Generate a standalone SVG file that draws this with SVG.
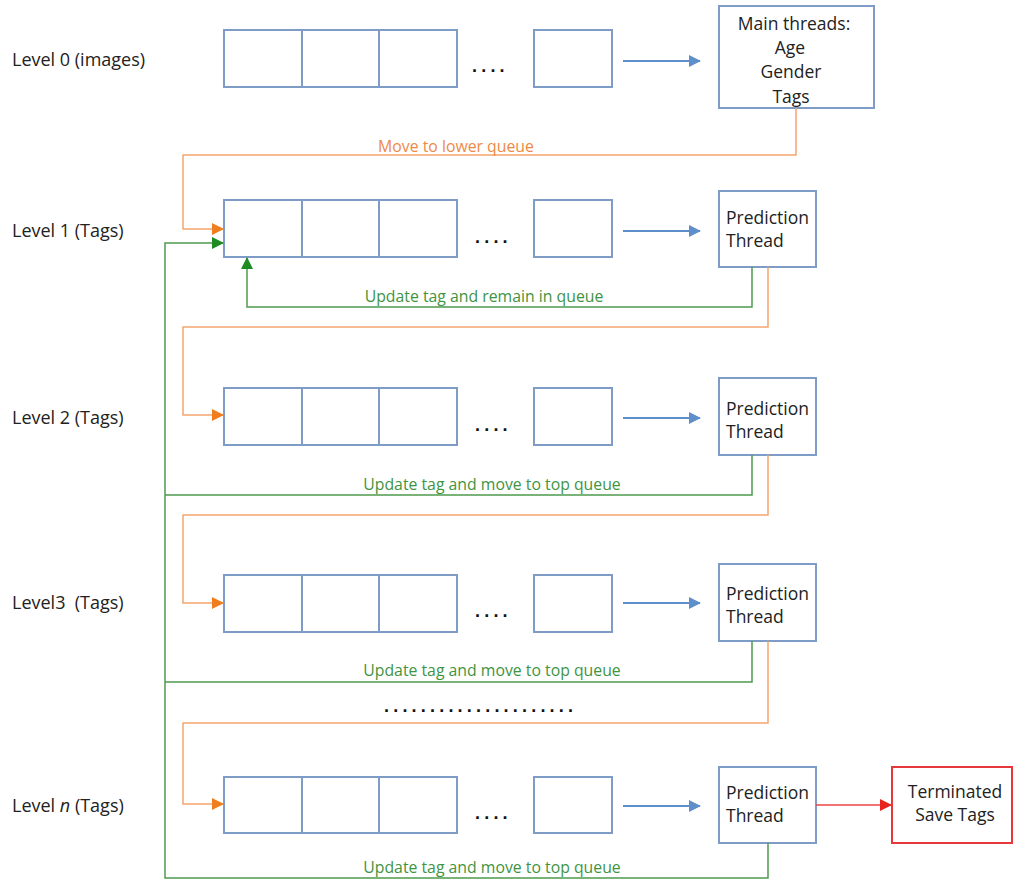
<svg xmlns="http://www.w3.org/2000/svg" width="1021" height="881" viewBox="0 0 1021 881">
<defs>
<style>
.cell{fill:#fff;stroke:#7F9CC6;stroke-width:2}
.box{fill:#fff;stroke:#7F9CC6;stroke-width:2}
.tbox{fill:#fff;stroke:#E8373A;stroke-width:2}
.t{font-family:"Open Sans","Liberation Sans",sans-serif;font-size:17.5px;fill:#222}
.lv{font-family:"Open Sans","Liberation Sans",sans-serif;font-size:18px;fill:#222}
.dots{font-family:"Liberation Sans",sans-serif;font-size:18px;font-weight:bold;fill:#111;letter-spacing:4.2px}
.lo{font-family:"Open Sans","Liberation Sans",sans-serif;font-size:15.8px;fill:#EE8A45}
.lg{font-family:"Open Sans","Liberation Sans",sans-serif;font-size:15.8px;fill:#3F943F}
.blue{fill:none;stroke:#5E8FCB;stroke-width:2}
.orange{fill:none;stroke:#F3A56C;stroke-width:1.5}
.green{fill:none;stroke:#4F9A4F;stroke-width:1.5}
.red{fill:none;stroke:#EE4446;stroke-width:1.5}
</style>
<marker id="ab" markerWidth="12" markerHeight="12" refX="11" refY="6" orient="auto" markerUnits="userSpaceOnUse"><path d="M0,0 L12,6 L0,12 Z" fill="#5E8FCB"/></marker>
<marker id="ao" markerWidth="12" markerHeight="12" refX="11" refY="6" orient="auto" markerUnits="userSpaceOnUse"><path d="M0,0 L12,6 L0,12 Z" fill="#F07E1E"/></marker>
<marker id="ag" markerWidth="12" markerHeight="12" refX="11" refY="6" orient="auto" markerUnits="userSpaceOnUse"><path d="M0,0 L12,6 L0,12 Z" fill="#1E8C22"/></marker>
<marker id="ar" markerWidth="12" markerHeight="12" refX="11" refY="6" orient="auto" markerUnits="userSpaceOnUse"><path d="M0,0 L12,6 L0,12 Z" fill="#E8201E"/></marker>
</defs>
<rect width="1021" height="881" fill="#fff"/>

<g id="labels">
<text class="lv" x="12" y="66">Level 0 (images)</text>
<text class="lv" x="12" y="237">Level 1 (Tags)</text>
<text class="lv" x="12" y="424">Level 2 (Tags)</text>
<text class="lv" x="12" y="609" xml:space="preserve">Level3  (Tags)</text>
<text class="lv" x="12" y="812">Level <tspan font-style="italic">n</tspan> (Tags)</text>
</g>

<g id="queue0">
<rect class="cell" x="224" y="30" width="78" height="57"/>
<rect class="cell" x="302" y="30" width="77" height="57"/>
<rect class="cell" x="379" y="30" width="78" height="57"/>
<text class="dots" x="472" y="72">....</text>
<rect class="cell" x="534" y="30" width="78" height="57"/>
</g>
<g id="main-threads">
<rect class="box" x="719" y="6" width="155" height="102"/>
<text class="t" text-anchor="middle" x="794" y="30">Main threads:</text>
<text class="t" text-anchor="middle" x="790" y="54">Age</text>
<text class="t" text-anchor="middle" x="791" y="78">Gender</text>
<text class="t" text-anchor="middle" x="791" y="103">Tags</text>
</g>

<g id="queue1">
<rect class="cell" x="224" y="200" width="78" height="57"/>
<rect class="cell" x="302" y="200" width="77" height="57"/>
<rect class="cell" x="379" y="200" width="78" height="57"/>
<text class="dots" x="475" y="243">....</text>
<rect class="cell" x="534" y="200" width="78" height="57"/>
</g>
<g id="pred1">
<rect class="box" x="719" y="191" width="97" height="76"/>
<text class="t" x="726" y="224">Prediction</text>
<text class="t" x="726" y="247">Thread</text>
</g>

<g id="queue2">
<rect class="cell" x="224" y="388" width="78" height="57"/>
<rect class="cell" x="302" y="388" width="77" height="57"/>
<rect class="cell" x="379" y="388" width="78" height="57"/>
<text class="dots" x="475" y="431">....</text>
<rect class="cell" x="534" y="388" width="78" height="57"/>
</g>
<g id="pred2">
<rect class="box" x="719" y="378" width="97" height="77"/>
<text class="t" x="726" y="415">Prediction</text>
<text class="t" x="726" y="438">Thread</text>
</g>

<g id="queue3">
<rect class="cell" x="224" y="575" width="78" height="57"/>
<rect class="cell" x="302" y="575" width="77" height="57"/>
<rect class="cell" x="379" y="575" width="78" height="57"/>
<text class="dots" x="475" y="617">....</text>
<rect class="cell" x="534" y="575" width="78" height="57"/>
</g>
<g id="pred3">
<rect class="box" x="719" y="564" width="97" height="77"/>
<text class="t" x="726" y="600">Prediction</text>
<text class="t" x="726" y="623">Thread</text>
</g>

<g id="ellipsis">
<text class="dots" x="384" y="712">.....................</text>
</g>

<g id="queuen">
<rect class="cell" x="224" y="777" width="78" height="56"/>
<rect class="cell" x="302" y="777" width="77" height="56"/>
<rect class="cell" x="379" y="777" width="78" height="56"/>
<text class="dots" x="475" y="819">....</text>
<rect class="cell" x="534" y="777" width="78" height="56"/>
</g>
<g id="predn">
<rect class="box" x="719" y="767" width="97" height="76"/>
<text class="t" x="726" y="799">Prediction</text>
<text class="t" x="726" y="822">Thread</text>
</g>
<g id="terminated">
<rect class="tbox" x="892" y="767" width="120" height="76"/>
<text class="t" text-anchor="middle" x="955" y="798">Terminated</text>
<text class="t" text-anchor="middle" x="955" y="821">Save Tags</text>
</g>

<g id="connectors">
<path class="blue" d="M623 61 H700" marker-end="url(#ab)"/>
<path class="blue" d="M623 231 H700" marker-end="url(#ab)"/>
<path class="blue" d="M623 418 H700" marker-end="url(#ab)"/>
<path class="blue" d="M623 603 H700" marker-end="url(#ab)"/>
<path class="blue" d="M623 806 H700" marker-end="url(#ab)"/>

<path class="orange" d="M796 108 V155 H183 V229 H223" marker-end="url(#ao)"/>
<path class="orange" d="M768 267 V327 H183 V415 H223" marker-end="url(#ao)"/>
<path class="orange" d="M768 455 V515 H183 V603 H223" marker-end="url(#ao)"/>
<path class="orange" d="M768 641 V723 H183 V804 H223" marker-end="url(#ao)"/>

<path class="green" d="M752 267 V307 H247 V258" marker-end="url(#ag)"/>
<path class="green" d="M752 455 V495 H165"/>
<path class="green" d="M752 641 V682 H165"/>
<path class="green" d="M768 843 V878 H165 V243 H223" marker-end="url(#ag)"/>

<path class="red" d="M816 805 H891" marker-end="url(#ar)"/>

<text class="lo" text-anchor="middle" x="456" y="152">Move to lower queue</text>
<text class="lg" text-anchor="middle" x="484" y="302">Update tag and remain in queue</text>
<text class="lg" text-anchor="middle" x="492" y="490">Update tag and move to top queue</text>
<text class="lg" text-anchor="middle" x="492" y="676">Update tag and move to top queue</text>
<text class="lg" text-anchor="middle" x="492" y="873">Update tag and move to top queue</text>
</g>
</svg>
